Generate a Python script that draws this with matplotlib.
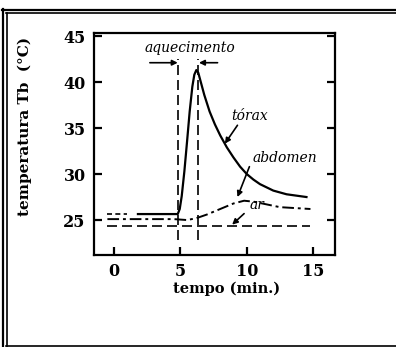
import numpy as np
import matplotlib
matplotlib.use('Agg')
import matplotlib.pyplot as plt
from matplotlib.lines import Line2D

# data
thorax_x = [1.8, 4.8, 4.95, 5.1, 5.3, 5.5, 5.7, 5.9, 6.05, 6.2, 6.35, 6.5, 6.8, 7.2, 7.6, 8.0, 8.5,
            9.0, 9.5, 10.0, 10.5, 11.0, 12.0, 13.0, 14.5]
thorax_y = [25.65, 25.65, 26.2, 27.6, 30.3, 33.5, 36.8, 39.5, 40.8, 41.3, 41.0, 40.2, 38.6, 36.8,
            35.4, 34.2, 32.9, 31.8, 30.8, 30.0, 29.4, 28.9, 28.2, 27.8, 27.5]
thorax_pre_x = [-0.5, 1.0]
thorax_pre_y = [25.65, 25.65]
abdomen_x = [-0.5, 4.5, 5.5, 6.2, 7.0, 8.0, 9.0, 9.8, 10.5, 11.5, 12.5, 14.8]
abdomen_y = [25.1, 25.1, 25.0, 25.2, 25.6, 26.2, 26.8, 27.1, 27.0, 26.7, 26.4, 26.2]
ar_x = [-0.5, 14.8]
ar_y = [24.35, 24.35]
heat_start, heat_end = 4.8, 6.3
xticks = [0, 5, 10, 15]
yticks = [25, 30, 35, 40, 45]

W, H = 396, 347
fig = plt.figure(figsize=(W / 100, H / 100), dpi=100)
ax = fig.add_axes([94 / W, 1 - 255 / H, 241 / W, 222 / H])

ax.plot(thorax_x, thorax_y, color='black', lw=1.6)
ax.plot(thorax_pre_x, thorax_pre_y, color='black', lw=1.2, dashes=(3, 2))
ax.plot(abdomen_x, abdomen_y, color='black', lw=1.4, dashes=(6, 2, 1.5, 2))
ax.plot(ar_x, ar_y, color='black', lw=1.2, dashes=(6, 3))

for xv in (heat_start, heat_end):
    ax.plot([xv, xv], [22.8, 42.5], color='black', lw=1.2, dashes=(6, 3))

arr = dict(arrowstyle='-|>', color='black', lw=1.2, mutation_scale=8, shrinkA=0, shrinkB=0)
ax.annotate('', xy=(heat_start, 42.1), xytext=(2.7, 42.1), arrowprops=arr)
ax.annotate('', xy=(heat_end + 0.1, 42.1), xytext=(7.8, 42.1), arrowprops=arr)

txt = dict(family='DejaVu Serif', style='italic', fontsize=10, ha='center', va='center')
ax.text(5.7, 43.7, 'aquecimento', **txt)
ax.text(10.2, 36.3, 'tórax', **txt)
ax.text(12.9, 31.7, 'abdomen', **txt)
ax.text(10.8, 26.6, 'ar', **txt)

ax.annotate('', xy=(8.35, 33.3), xytext=(9.3, 35.3), arrowprops=arr)
ax.annotate('', xy=(9.3, 27.5), xytext=(10.2, 30.8), arrowprops=arr)
ax.annotate('', xy=(8.9, 24.5), xytext=(9.8, 25.7), arrowprops=arr)

ax.set_xlim(-1.51, 16.65)
ax.set_ylim(21.2, 45.33)
ax.set_xticks(xticks)
ax.set_yticks(yticks)
ax.tick_params(direction='in', length=6, width=1.6, right=True, pad=6)
for lab in ax.get_xticklabels() + ax.get_yticklabels():
    lab.set_family('DejaVu Serif')
    lab.set_fontweight('bold')
    lab.set_fontsize(11.5)
for s in ax.spines.values():
    s.set_linewidth(1.6)

fig.text(227 / W, 1 - 289 / H, 'tempo (min.)', family='DejaVu Serif', weight='bold',
         fontsize=10.5, ha='center', va='center')
fig.text(25 / W, 1 - 126 / H, 'temperatura Tb  (°C)', family='DejaVu Serif', weight='bold',
         fontsize=11, ha='center', va='center', rotation=90)

# frame around the figure (table cell border)
def px_line(x, y, lw):
    fig.add_artist(Line2D([v / W for v in x], [1 - v / H for v in y],
                          transform=fig.transFigure, color='black', lw=lw))

px_line([2, W], [9.5, 9.5], 1.6)
px_line([6, W], [12.8, 12.8], 1.2)
px_line([2.8, 2.8], [9, H], 1.6)
px_line([6.6, 6.6], [12.5, H], 1.2)
px_line([6, W], [345.6, 345.6], 1.2)

fig.savefig('out.png', dpi=100)
